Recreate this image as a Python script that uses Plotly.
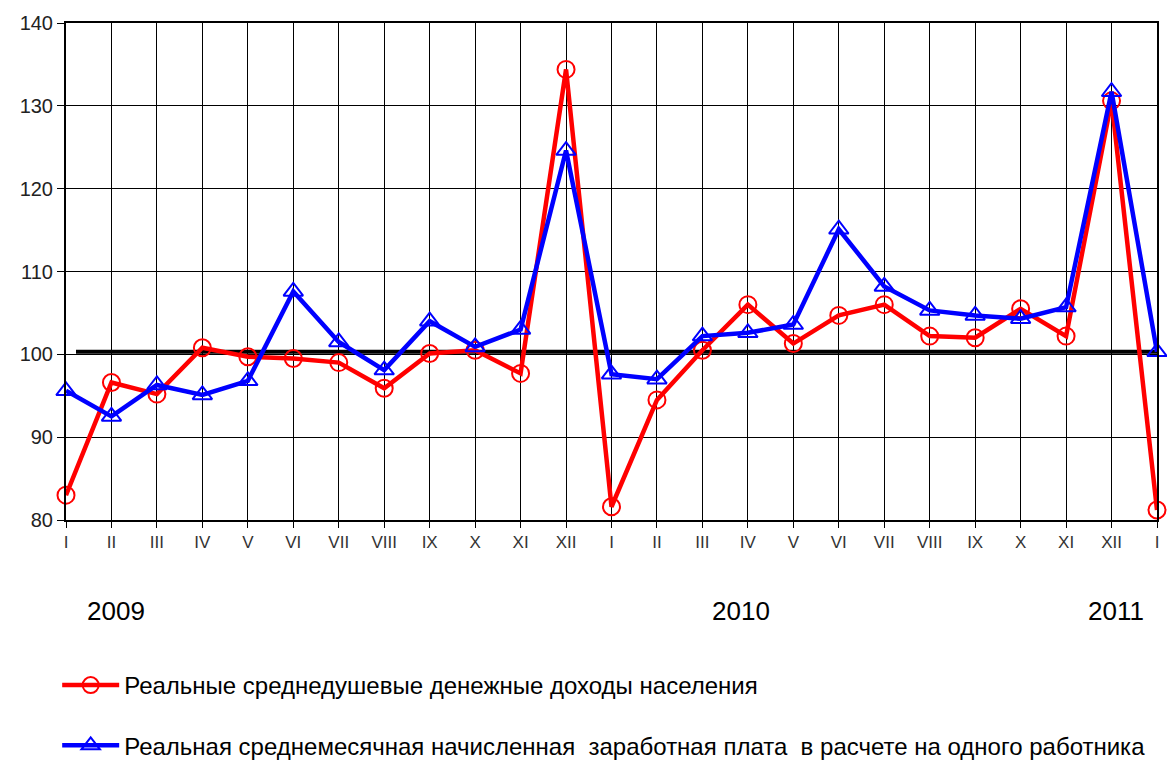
import plotly.graph_objects as go

months = ["I", "II", "III", "IV", "V", "VI", "VII", "VIII", "IX", "X", "XI", "XII",
          "I", "II", "III", "IV", "V", "VI", "VII", "VIII", "IX", "X", "XI", "XII", "I"]
income = [83.0, 96.6, 95.2, 100.8, 99.7, 99.5, 99.0, 95.9, 100.1, 100.5, 97.7, 134.4,
          81.6, 94.5, 100.5, 106.0, 101.3, 104.7, 106.0, 102.2, 102.0, 105.5, 102.2, 130.6, 81.2]
wage = [95.6, 92.5, 96.3, 95.1, 96.8, 107.6, 101.5, 98.1, 104.0, 100.9, 103.0, 124.6,
        97.6, 97.0, 102.2, 102.6, 103.6, 115.1, 108.2, 105.3, 104.7, 104.3, 105.7, 131.7, 100.3]
ref_level = 100.3
years = ["2009", "2010", "2011"]
year_pos = [1.1, 14.85, 23.1]
y_ticks = [80, 90, 100, 110, 120, 130, 140]

name_income = "Реальные среднедушевые денежные доходы населения"
name_wage = "Реальная среднемесячная начисленная  заработная плата  в расчете на одного работника"

xs = list(range(len(months)))

fig = go.Figure()
fig.add_trace(go.Scatter(
    x=xs, y=income, mode="lines+markers", name=name_income, legendgroup="a",
    line=dict(color="#ff0000", width=4.5),
    marker=dict(symbol="circle-open", size=17, color="#ff0000", line=dict(width=2)),
    cliponaxis=False,
))
fig.add_trace(go.Scatter(
    x=xs, y=wage, mode="lines+markers", name=name_wage, legendgroup="b",
    line=dict(color="#0000ff", width=4.5),
    marker=dict(symbol="triangle-up-open", size=17, color="#0000ff", line=dict(width=2)),
    cliponaxis=False,
))

fig.add_shape(type="line", xref="x", yref="y", x0=0.22, x1=24, y0=ref_level, y1=ref_level,
              line=dict(color="black", width=4), layer="below")

for yr, xp in zip(years, year_pos):
    fig.add_annotation(x=xp, xref="x", y=-0.217, yref="paper", text=yr, showarrow=False,
                       font=dict(family="Liberation Sans", size=26, color="black"))

fig.update_xaxes(
    range=[0, 24], tickvals=xs, ticktext=months, showgrid=True, gridcolor="black", gridwidth=1,
    showline=True, linecolor="black", linewidth=2, mirror=True,
    ticks="outside", ticklen=6, tickcolor="black", zeroline=False,
    tickfont=dict(family="Liberation Sans", size=17, color="#333"),
)
fig.update_yaxes(
    range=[80, 140], tickvals=y_ticks, showgrid=True, gridcolor="black", gridwidth=1,
    showline=True, linecolor="black", linewidth=2, mirror=True,
    ticks="outside", ticklen=7, tickcolor="black", zeroline=False,
    tickfont=dict(family="Liberation Sans", size=20, color="#222"),
)

fig.update_layout(
    width=1167, height=760,
    margin=dict(l=66, r=10, t=23, b=240, autoexpand=False),
    paper_bgcolor="white", plot_bgcolor="white",
    showlegend=True,
    legend=dict(
        xref="container", yref="container", x=0.049, y=1 - 663 / 760,
        xanchor="left", yanchor="top", orientation="v",
        font=dict(family="Liberation Sans", size=24, color="black"),
        tracegroupgap=26, itemwidth=57, bgcolor="rgba(0,0,0,0)",
    ),
)

fig.write_html("out.html", config={"displayModeBar": False},
               post_script="document.body.style.margin='0';")
